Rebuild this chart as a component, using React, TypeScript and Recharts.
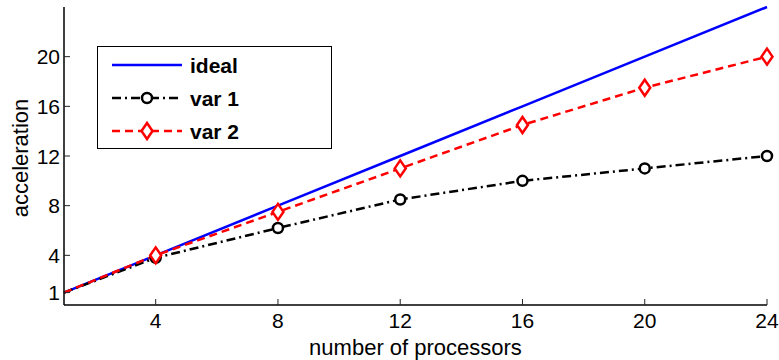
import { LineChart, Line, XAxis, YAxis } from 'recharts';

const processors = [1, 4, 8, 12, 16, 20, 24];
const ideal = [1, 4, 8, 12, 16, 20, 24];
const var1 = [1, 3.8, 6.2, 8.5, 10, 11, 12];
const var2 = [1, 4, 7.5, 11, 14.5, 17.5, 20];
const xTicks = [4, 8, 12, 16, 20, 24];
const yTicks = [1, 4, 8, 12, 16, 20];

const DATA = processors.map((p, i) => ({ p, ideal: ideal[i], var1: var1[i], var2: var2[i] }));

const FONT = '"Liberation Sans", Arial, Helvetica, sans-serif';
const BLUE = '#0000ff';
const RED = '#ff0000';
const DASHDOT = '9 4 2 4';
const DASHED = '8 5';

// markers: MATLAB style, not on the starting point
const CircleDot = (props: any) => {
  const { cx, cy, index } = props;
  if (index === 0 || cx == null) return <g key={`c${index}`} />;
  return <circle key={`c${index}`} cx={cx} cy={cy} r={5} fill="#fff" stroke="#000" strokeWidth={2.5} />;
};

const DiamondDot = (props: any) => {
  const { cx, cy, index } = props;
  if (index === 0 || cx == null) return <g key={`d${index}`} />;
  return (
    <path
      key={`d${index}`}
      d={`M${cx},${cy - 8} L${cx + 5.5},${cy} L${cx},${cy + 8} L${cx - 5.5},${cy} Z`}
      fill="#fff"
      stroke={RED}
      strokeWidth={2.5}
    />
  );
};

const BottomTick = (props: any) => {
  const { x, y, payload } = props;
  return (
    <g>
      <line x1={x} y1={y} x2={x} y2={y - 6} stroke="#222" strokeWidth={1} />
      <text x={x} y={y + 23} textAnchor="middle" fontFamily={FONT} fontSize={21} fill="#000">
        {payload.value}
      </text>
    </g>
  );
};

const LeftTick = (props: any) => {
  const { x, y, payload } = props;
  return (
    <g>
      <line x1={x} y1={y} x2={x + 6} y2={y} stroke="#222" strokeWidth={1} />
      <text x={x - 4} y={y + 7.5} textAnchor="end" fontFamily={FONT} fontSize={21} fill="#000">
        {payload.value}
      </text>
    </g>
  );
};

const TopTick = (props: any) => {
  const { x, y } = props;
  return <line x1={x} y1={y} x2={x} y2={y + 6} stroke="#222" strokeWidth={1} />;
};

const RightTick = (props: any) => {
  const { x, y } = props;
  return <line x1={x} y1={y} x2={x - 6} y2={y} stroke="#222" strokeWidth={1} />;
};

function LegendBox() {
  const rows = [
    { name: 'ideal', color: BLUE, dash: undefined, marker: 'none' },
    { name: 'var 1', color: '#000', dash: DASHDOT, marker: 'circle' },
    { name: 'var 2', color: RED, dash: DASHED, marker: 'diamond' },
  ];
  return (
    <div
      style={{
        position: 'absolute',
        left: 97,
        top: 46,
        width: 235,
        height: 103,
        boxSizing: 'border-box',
        border: '1.5px solid #000',
        background: '#fff',
      }}
    >
      <svg width={232} height={100} style={{ position: 'absolute', left: 0, top: 0 }}>
        {rows.map((r, i) => {
          const cy = 18 + i * 33;
          return (
            <g key={r.name}>
              <line x1={14} y1={cy} x2={84} y2={cy} stroke={r.color} strokeWidth={2.5} strokeDasharray={r.dash} />
              {r.marker === 'circle' && <circle cx={49} cy={cy} r={5} fill="#fff" stroke="#000" strokeWidth={2.5} />}
              {r.marker === 'diamond' && (
                <path
                  d={`M49,${cy - 8} L54.5,${cy} L49,${cy + 8} L43.5,${cy} Z`}
                  fill="#fff"
                  stroke={RED}
                  strokeWidth={2.5}
                />
              )}
              <text x={92} y={cy + 7.5} fontFamily={FONT} fontSize={21} fontWeight="bold" fill="#000">
                {r.name}
              </text>
            </g>
          );
        })}
      </svg>
    </div>
  );
}

export default function App() {
  return (
    <div style={{ position: 'absolute', left: 0, top: 0, width: 779, height: 360, background: '#fff' }}>
      <LineChart width={779} height={360} data={DATA} margin={{ top: 7, right: 12, bottom: 0, left: 0 }}>
        <XAxis
          dataKey="p"
          type="number"
          domain={[1, 24]}
          ticks={xTicks}
          height={55}
          tickSize={0}
          tickMargin={0}
          tickLine={false}
          axisLine={{ stroke: '#000', strokeWidth: 1.5 }}
          tick={<BottomTick />}
          label={({ viewBox }: any) => (
            <text
              x={viewBox.x + viewBox.width / 2}
              y={viewBox.y + 50}
              textAnchor="middle"
              fontFamily={FONT}
              fontSize={22}
              fill="#000"
            >
              number of processors
            </text>
          )}
        />
        <XAxis
          xAxisId="top"
          orientation="top"
          type="number"
          domain={[1, 24]}
          ticks={xTicks}
          height={0}
          tickSize={0}
          tickMargin={0}
          tickLine={false}
          axisLine={{ stroke: '#000', strokeWidth: 1.5 }}
          tick={<TopTick />}
        />
        <YAxis
          type="number"
          domain={[0, 24]}
          ticks={yTicks}
          width={64}
          tickSize={0}
          tickMargin={0}
          tickLine={false}
          axisLine={{ stroke: '#000', strokeWidth: 1.5 }}
          tick={<LeftTick />}
          label={({ viewBox }: any) => {
            const cx = 28;
            const cy = viewBox.y + viewBox.height / 2 + 2;
            return (
              <text
                x={cx}
                y={cy}
                textAnchor="middle"
                transform={`rotate(-90, ${cx}, ${cy})`}
                fontFamily={FONT}
                fontSize={22}
                fill="#000"
              >
                acceleration
              </text>
            );
          }}
        />
        <YAxis
          yAxisId="right"
          orientation="right"
          type="number"
          domain={[0, 24]}
          ticks={yTicks}
          width={0}
          tickSize={0}
          tickMargin={0}
          tickLine={false}
          axisLine={{ stroke: '#000', strokeWidth: 1.5 }}
          tick={<RightTick />}
        />
        <Line
          dataKey="ideal"
          type="linear"
          stroke={BLUE}
          strokeWidth={2.5}
          dot={false}
          activeDot={false}
          isAnimationActive={false}
        />
        <Line
          dataKey="var1"
          type="linear"
          stroke="#000"
          strokeWidth={2.5}
          strokeDasharray={DASHDOT}
          dot={<CircleDot />}
          activeDot={false}
          isAnimationActive={false}
        />
        <Line
          dataKey="var2"
          type="linear"
          stroke={RED}
          strokeWidth={2.5}
          strokeDasharray={DASHED}
          dot={<DiamondDot />}
          activeDot={false}
          isAnimationActive={false}
        />
      </LineChart>
      <LegendBox />
    </div>
  );
}
